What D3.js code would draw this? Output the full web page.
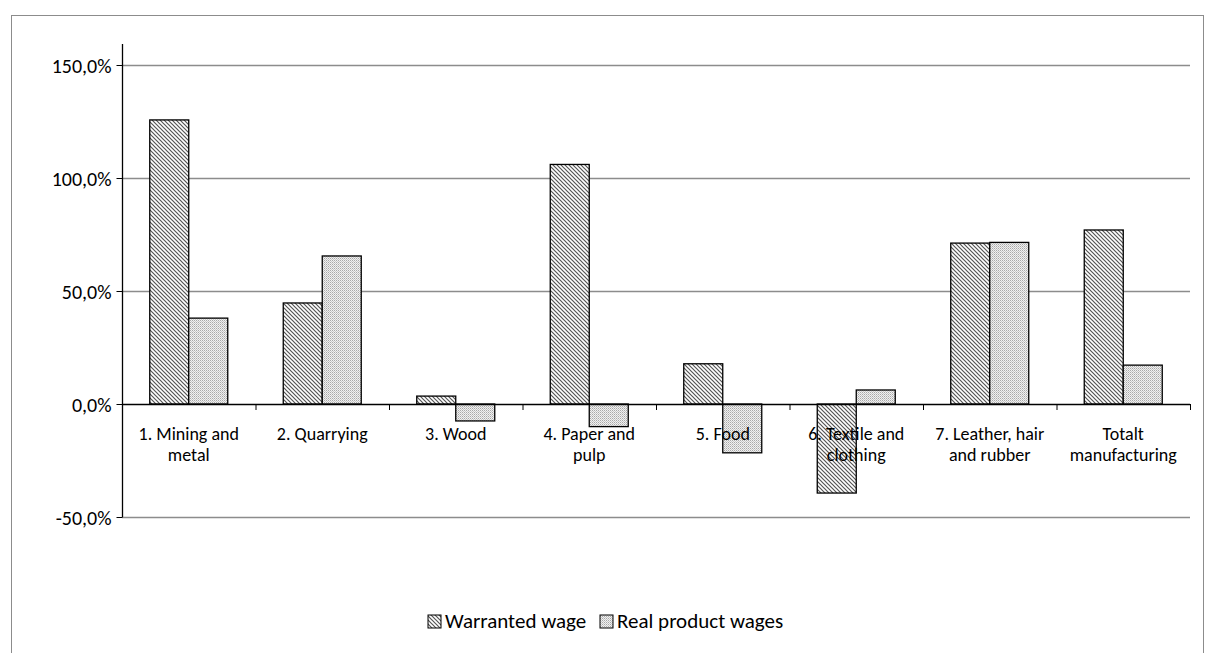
<!DOCTYPE html><html><head><meta charset="utf-8"><script src="https://cdn.jsdelivr.net/npm/d3@7"></script>
<style>body{margin:0;background:#fff}text{font-family:Carlito,"Open Sans",sans-serif;fill:#000}</style></head><body>
<svg id="c" width="1206" height="653"></svg>
<script>
const categories=[["1. Mining and","metal"],["2. Quarrying"],["3. Wood"],["4. Paper and","pulp"],["5. Food"],["6. Textile and","clothing"],["7. Leather, hair","and rubber"],["Totalt","manufacturing"]];
const warranted=[125.7,44.7,3.5,106,17.8,-39.4,71.2,77];
const realWages=[38,65.5,-7.5,-10,-21.6,6.2,71.5,17.2];
const seriesNames=["Warranted wage","Real product wages"];
const yTicks=[-50,0,50,100,150];
const svg=d3.select("#c");
const defs=svg.append("defs");
const p1=defs.append("pattern").attr("id","hatch").attr("width",4).attr("height",4).attr("patternUnits","userSpaceOnUse");
p1.append("rect").attr("width",4).attr("height",4).attr("fill","#fff");
p1.append("path").attr("d","M-1,-1L5,5M3,-1L5,1M-1,3L1,5").attr("stroke","#555").attr("stroke-width",1.2);
const p2=defs.append("pattern").attr("id","dots").attr("width",2).attr("height",2).attr("patternUnits","userSpaceOnUse");
p2.append("rect").attr("width",2).attr("height",2).attr("fill","#f0f0f0");
p2.append("rect").attr("width",1).attr("height",1).attr("fill","#a8a8a8");
p2.append("rect").attr("x",1).attr("y",1).attr("width",1).attr("height",1).attr("fill","#c8c8c8");
svg.append("rect").attr("x",11.5).attr("y",15.5).attr("width",1192).attr("height",660).attr("fill","none").attr("stroke","#8c8c8c");
const x0=d3.scaleBand().domain(d3.range(categories.length)).range([122,1190]);
const y=d3.scaleLinear().domain([-50,150]).range([517,65]);
svg.append("g").selectAll("line").data(yTicks.filter(d=>d!==0)).join("line").attr("x1",122).attr("x2",1190).attr("y1",d=>y(d)+.5).attr("y2",d=>y(d)+.5).attr("stroke","#8c8c8c").attr("stroke-width",1.3);
const bw=39;
const series=[warranted,realWages],fills=["url(#hatch)","url(#dots)"];
series.forEach((s,k)=>{
 svg.append("g").selectAll("rect").data(s).join("rect")
 .attr("x",(d,i)=>x0(i)+x0.bandwidth()/2-bw+k*bw).attr("width",bw)
 .attr("y",d=>y(Math.max(0,d))).attr("height",d=>Math.abs(y(d)-y(0)))
 .attr("fill",fills[k]).attr("stroke","#000").attr("stroke-width",1.3);
});
const ya=svg.append("g").attr("transform","translate(122.5,0)").call(d3.axisLeft(y).tickValues(yTicks).tickSize(6).tickSizeOuter(0).tickFormat(d=>d.toFixed(1).replace(".",",")+"%"));
ya.select(".domain").attr("d","M0,44V517").attr("stroke","#000").attr("stroke-width",1.3);
ya.selectAll("text").attr("font-size",20).attr("x",-11).attr("dy","0.35em").style("font-family","Carlito,'Open Sans',sans-serif");
ya.selectAll(".tick line").attr("x1",-6).attr("x2",0).attr("stroke","#000");
const xa=svg.append("g");
xa.append("line").attr("x1",122).attr("x2",1190).attr("y1",y(0)+.5).attr("y2",y(0)+.5).attr("stroke","#000").attr("stroke-width",1.3);
xa.selectAll(".t").data(d3.range(categories.length+1)).join("line").attr("x1",i=>(i<categories.length?x0(i):1190)+.5).attr("x2",i=>(i<categories.length?x0(i):1190)+.5).attr("y1",y(0)).attr("y2",y(0)+6).attr("stroke","#000");
categories.forEach((c,i)=>{
 const t=svg.append("text").attr("text-anchor","middle").attr("font-size",18).attr("x",x0(i)+x0.bandwidth()/2).attr("y",440);
 c.forEach((l,j)=>t.append("tspan").attr("x",x0(i)+x0.bandwidth()/2).attr("dy",j?21:0).text(l));
});
const lg=svg.append("g");
[[428,0],[600,1]].forEach(([lx,k])=>{
 lg.append("rect").attr("x",lx).attr("y",615).attr("width",13).attr("height",13).attr("fill",fills[k]).attr("stroke","#000");
 lg.append("text").attr("x",lx+17).attr("y",628).attr("font-size",21).text(seriesNames[k]);
});
</script></body></html>
